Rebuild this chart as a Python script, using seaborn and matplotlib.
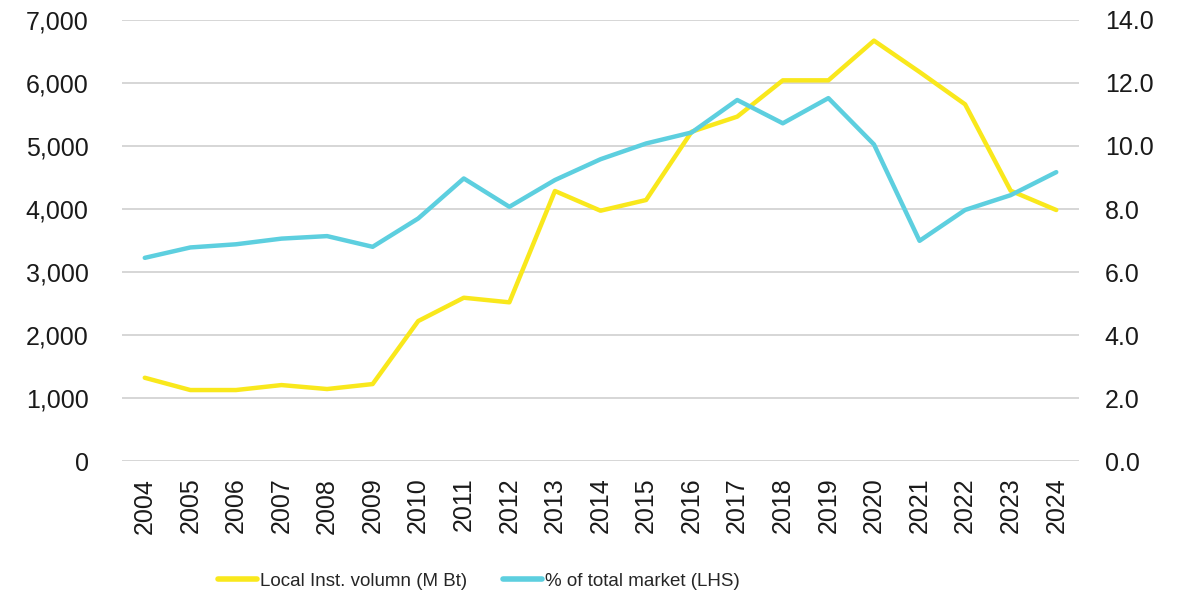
import matplotlib

matplotlib.use("Agg")
import matplotlib.pyplot as plt
import pandas as pd
import seaborn as sns
from matplotlib.lines import Line2D
from matplotlib.ticker import FuncFormatter

years = list(range(2004, 2025))
local_volume = [1322, 1127, 1127, 1206, 1143, 1222, 2222, 2592, 2519, 4286,
                3973, 4143, 5227, 5466, 6042, 6042, 6672, 6175, 5661, 4290, 3984]
pct_market = [6.45, 6.78, 6.88, 7.06, 7.14, 6.80, 7.70, 8.97, 8.07, 8.92,
              9.58, 10.08, 10.43, 11.46, 10.72, 11.52, 10.05, 6.99, 7.97, 8.44, 9.17]
labels = ["Local Inst. volumn (M Bt)", "% of total market (LHS)"]

YELLOW = "#F9E81C"
CYAN = "#5DCFDF"

df = pd.DataFrame({"year": years, "volume": local_volume, "pct": pct_market})

sns.set_style("white")
plt.rcParams["font.family"] = ["Liberation Sans", "DejaVu Sans"]

fig = plt.figure(figsize=(11.82, 5.98), dpi=100)
ax = fig.add_axes([0.1032, 0.229, 0.8097, 0.7376])
ax2 = ax.twinx()

sns.lineplot(data=df, x="year", y="volume", ax=ax, color=YELLOW, lw=3.2)
sns.lineplot(data=df, x="year", y="pct", ax=ax2, color=CYAN, lw=3.2)

ax.set_xlim(2003.5, 2024.5)
ax.set_ylim(0, 7000)
ax2.set_ylim(0, 14)
ax.set_yticks(range(0, 7001, 1000))
ax2.set_yticks([i * 2 for i in range(8)])
ax.yaxis.set_major_formatter(FuncFormatter(lambda v, _: f"{v:,.0f}"))
ax2.yaxis.set_major_formatter(FuncFormatter(lambda v, _: f"{v:.1f}"))
ax.set_xticks(years)
ax.set_xticklabels([str(y) for y in years], rotation=90)

ax.grid(axis="y", color="#D6D6D6", lw=1.4)
ax.grid(axis="x", visible=False)
ax2.grid(False)
for a in (ax, ax2):
    for s in a.spines.values():
        s.set_visible(False)
    a.tick_params(length=0, labelsize=18, colors="#1a1a1a")
    a.set_xlabel("")
    a.set_ylabel("")
ax.tick_params(axis="y", pad=24)
ax2.tick_params(axis="y", pad=18.5)
ax.tick_params(axis="x", pad=12)

handles = [Line2D([], [], color=YELLOW, lw=4), Line2D([], [], color=CYAN, lw=4)]
fig.legend(handles, labels, loc="center", bbox_to_anchor=(0.405, 0.028), ncol=2,
           frameon=False, handlelength=2.1, handletextpad=0.15, columnspacing=1.9,
           fontsize=13.5)

fig.savefig("out.png", dpi=100)
